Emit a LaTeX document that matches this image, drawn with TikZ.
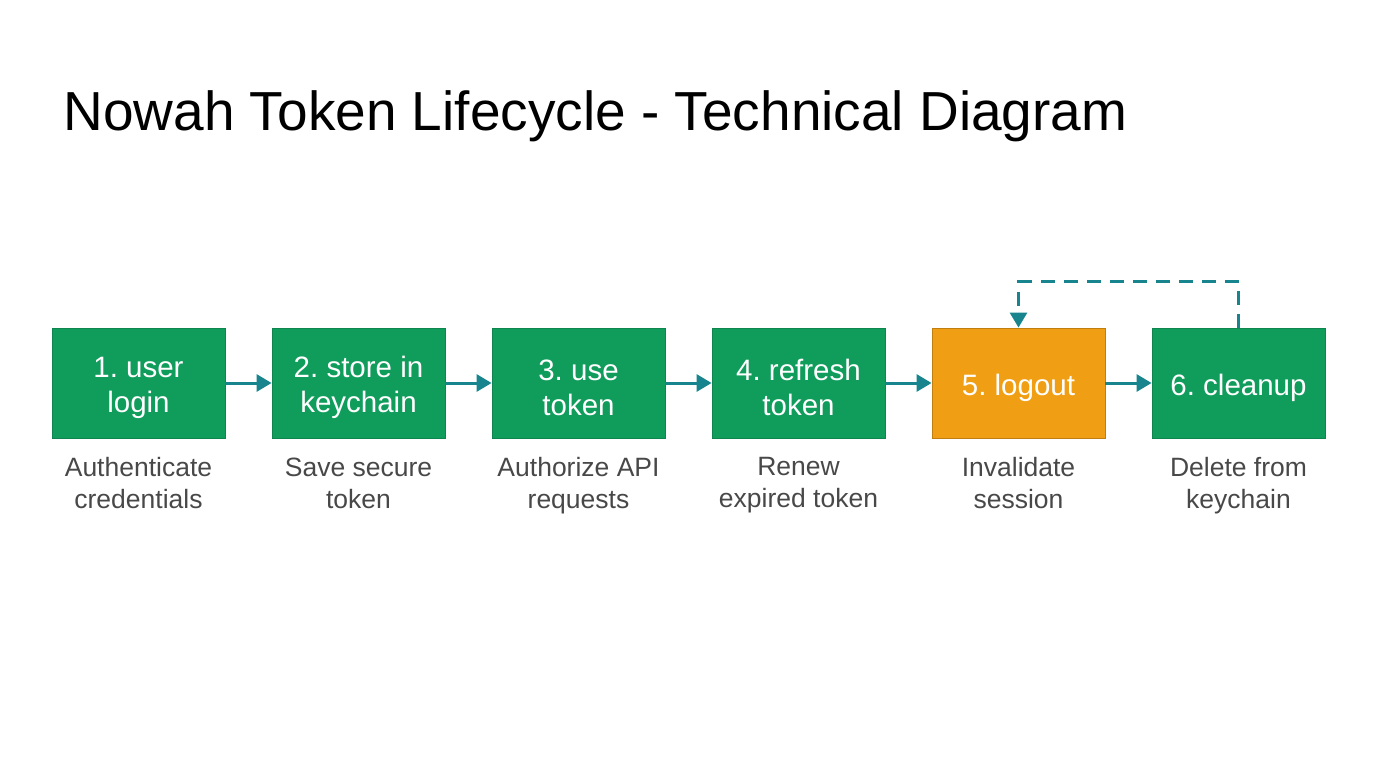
\documentclass[tikz,border=0pt]{standalone}
\usepackage{fontspec}
\setmainfont{Liberation Sans}
\usetikzlibrary{positioning, arrows.meta}
\frenchspacing

\definecolor{stepgreen}{RGB}{16,157,92}
\definecolor{logoutorange}{RGB}{240,158,20}
\definecolor{flowteal}{RGB}{24,132,142}
\definecolor{desctext}{RGB}{72,72,72}
\newcommand{\lift}{\rule{0pt}{31pt}}

\begin{document}
\begin{tikzpicture}
	[x=1pt, y=-1pt, on grid, node distance=220pt,
	 phase/.style={rectangle, fill=stepgreen, draw=stepgreen!85!black, line width=0.8pt,
	   minimum width=173pt, minimum height=110pt, inner sep=0pt, text=white,
	   font=\fontsize{29.5}{35}\selectfont, align=center},
	 halt/.style={phase, fill=logoutorange, draw=logoutorange!80!black},
	 desc/.style={on grid=false, inner sep=2pt, text=desctext,
	   font=\fontsize{26.5}{32}\selectfont, align=center},
	 flow/.style={color=flowteal, line width=3pt, -{Triangle[length=15pt,width=17pt]}}]
   \useasboundingbox (0,0) rectangle (1376,768);
   \node[anchor=base west, font=\fontsize{55}{60}\selectfont] (title) at (60,130)
     {Nowah Token Lifecycle - Technical Diagram};
   % steps
   \node[phase] (step1) at (138.5,383) {\lift 1. user\\login};
   \node[phase] (step2) [right=of step1] {\lift 2. store in\\keychain};
   \node[phase] (step3) [right=of step2] {\lift 3. use\\token};
   \node[phase] (step4) [right=of step3] {\lift 4. refresh\\token};
   \node[halt]  (step5) [right=of step4] {\lift 5. logout};
   \node[phase] (step6) [right=of step5] {\lift 6. cleanup};
   % descriptions
   \node[desc] (desc1) [below=17pt of step1] {Authenticate\\credentials};
   \node[desc] (desc2) [below=17pt of step2] {Save secure\\token};
   \node[desc] (desc3) [below=17pt of step3] {Authorize API\\requests};
   \node[desc] (desc4) [below=17pt of step4] {Renew\\expired token};
   \node[desc] (desc5) [below=17pt of step5] {Invalidate\\session};
   \node[desc] (desc6) [below=17pt of step6] {Delete from\\keychain};
   \path[flow]
    (step1) edge (step2)
    (step2) edge (step3)
    (step3) edge (step4)
    (step4) edge (step5)
    (step5) edge (step6);
   \draw[flow, dash pattern=on 14pt off 9pt] (step6.north) -- ++(0,-46) -| (step5.north);
\end{tikzpicture}
\end{document}
